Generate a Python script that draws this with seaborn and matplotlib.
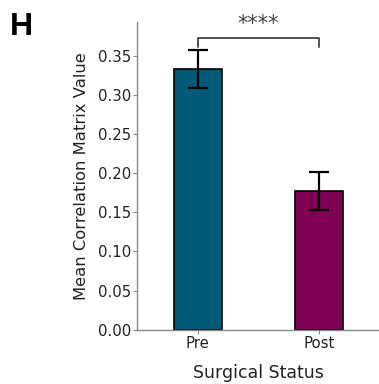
import pandas as pd
import matplotlib.pyplot as plt
import seaborn as sns

status = ['Pre', 'Post']
mean_corr = [0.333, 0.177]
sem = [0.024, 0.024]
bar_colors = ['#005a78', '#800055']

df = pd.DataFrame({'Surgical Status': status, 'Mean': mean_corr})

sns.set_style('white')
plt.rcParams['font.family'] = ['DejaVu Sans']

fig = plt.figure(figsize=(3.79, 3.84), dpi=100)
ax = fig.add_axes([0.362, 0.141, 0.64, 0.802])

sns.barplot(data=df, x='Surgical Status', y='Mean', hue='Surgical Status',
            palette=bar_colors, width=0.4, edgecolor='black', linewidth=1.2,
            saturation=1, legend=False, ax=ax)
ax.errorbar(x=range(len(status)), y=mean_corr, yerr=sem, fmt='none',
            ecolor='black', elinewidth=1.6, capsize=7, capthick=1.6)

# significance bracket
y_br = 0.373
ax.plot([0, 0, 1, 1], [0.361, y_br, y_br, 0.361], color='#444444', lw=1.3)
ax.text(0.5, y_br + 0.004, '****', ha='center', va='bottom', fontsize=15, color='#444444')

ax.set_xlim(-0.5, 1.5)
ax.set_ylim(0, 0.393)
ax.set_yticks([0, 0.05, 0.1, 0.15, 0.2, 0.25, 0.3, 0.35])
ax.set_yticklabels(['0.00', '0.05', '0.10', '0.15', '0.20', '0.25', '0.30', '0.35'])
ax.tick_params(axis='both', labelsize=10.7, colors='#888888', labelcolor='#222222',
               length=3, width=0.8, pad=1.5, left=True, bottom=True)
ax.set_ylabel('Mean Correlation Matrix Value', fontsize=11.8, color='#222222', labelpad=6)
ax.set_xlabel('Surgical Status', fontsize=12.5, color='#222222', labelpad=9)
for s in ['top', 'right']:
    ax.spines[s].set_visible(False)
for s in ['left', 'bottom']:
    ax.spines[s].set_color('#888888')
    ax.spines[s].set_linewidth(1.0)

fig.text(0.025, 0.97, 'H', fontsize=23, fontweight='bold', va='top', ha='left',
         color='black', family=['Liberation Sans', 'DejaVu Sans'])

plt.savefig('out.png', dpi=100)
